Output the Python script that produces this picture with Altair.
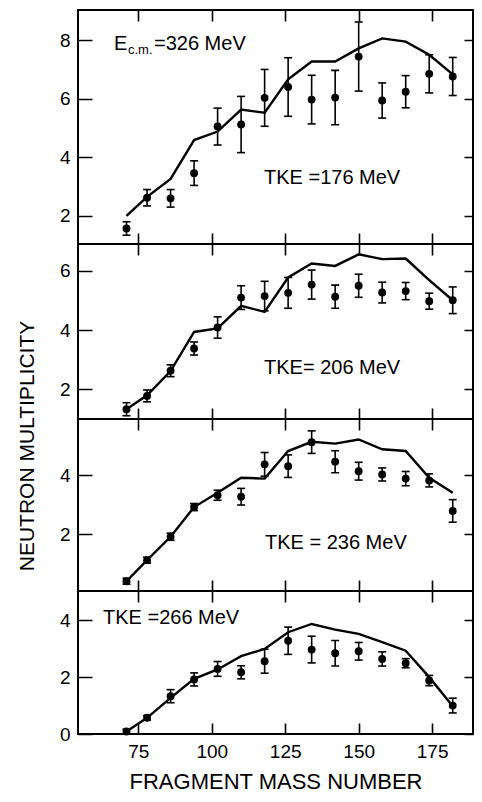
import altair as alt
import pandas as pd

# fragment mass numbers (shared by all panels)
mass = [71, 78, 86, 94, 102, 110, 118, 126, 134, 142, 150, 158, 166, 174, 182]

# TKE = 176 MeV
p1_mult = [1.57, 2.62, 2.60, 3.46, 5.05, 5.12, 6.03, 6.40, 5.97, 6.04, 7.44, 5.94, 6.24, 6.85, 6.76]
p1_err = [0.23, 0.28, 0.30, 0.42, 0.63, 0.96, 0.97, 1.00, 0.83, 0.93, 1.18, 0.60, 0.55, 0.65, 0.65]
p1_calc = [2.00, 2.65, 3.26, 4.59, 4.88, 5.63, 5.52, 6.66, 7.27, 7.27, 7.72, 8.06, 7.95, 7.50, 6.83]

# TKE = 206 MeV
p2_mult = [1.33, 1.78, 2.63, 3.38, 4.09, 5.10, 5.15, 5.26, 5.54, 5.13, 5.50, 5.27, 5.32, 4.98, 5.01]
p2_err = [0.22, 0.20, 0.20, 0.22, 0.36, 0.40, 0.50, 0.52, 0.49, 0.39, 0.39, 0.35, 0.29, 0.27, 0.45]
p2_calc = [1.33, 1.80, 2.62, 3.94, 4.06, 4.82, 4.62, 5.78, 6.25, 6.17, 6.56, 6.40, 6.42, 5.69, 5.01]

# TKE = 236 MeV
p3_mult = [0.42, 1.13, 1.92, 2.92, 3.32, 3.27, 4.36, 4.30, 5.11, 4.45, 4.13, 4.02, 3.88, 3.82, 2.79]
p3_err = [0.10, 0.10, 0.12, 0.12, 0.17, 0.28, 0.40, 0.38, 0.38, 0.37, 0.30, 0.22, 0.24, 0.22, 0.38]
p3_calc = [0.42, 1.13, 1.92, 2.92, 3.40, 3.91, 3.88, 4.81, 5.12, 5.06, 5.20, 4.87, 4.81, 3.91, 3.40]

# TKE = 266 MeV
p4_mult = [0.09, 0.57, 1.33, 1.92, 2.29, 2.17, 2.56, 3.28, 2.97, 2.84, 2.91, 2.64, 2.49, 1.88, 1.00]
p4_err = [0.08, 0.08, 0.23, 0.23, 0.26, 0.23, 0.42, 0.48, 0.47, 0.45, 0.31, 0.25, 0.16, 0.18, 0.26]
p4_calc = [0.09, 0.57, 1.27, 1.94, 2.27, 2.74, 2.99, 3.58, 3.87, 3.67, 3.52, 3.23, 2.93, 2.00, 0.98]

x_ticks = [75, 100, 125, 150, 175]
x_domain = [54.5, 188.9]
tke_labels = ["TKE =176 MeV", "TKE= 206 MeV", "TKE = 236 MeV", "TKE =266 MeV"]
ecm_parts = ["E", "c.m.", "=326 MeV"]
y_title = "NEUTRON MULTIPLICITY"
x_title = "FRAGMENT MASS NUMBER"

FONT = "Liberation Sans"
W = 395
HEIGHTS = [234, 175, 172, 143]


def text_layer(s, x, y, size=20, angle=0, align="left", baseline="alphabetic"):
    kw = dict(font=FONT, fontSize=size, color="black", align=align, baseline=baseline)
    if angle:
        kw["angle"] = angle
    return alt.Chart(pd.DataFrame({"t": [s]})).mark_text(**kw).encode(
        x=alt.value(x), y=alt.value(y), text="t:N")


def panel(mult, err, calc, ydom, yticks, h, label, lx, ly, bottom=False):
    df = pd.DataFrame({
        "mass": mass,
        "mult": mult,
        "lo": [m - e for m, e in zip(mult, err)],
        "hi": [m + e for m, e in zip(mult, err)],
        "calc": calc,
    })
    xaxis = alt.Axis(
        values=x_ticks, grid=True, gridColor="black", gridWidth=1.6,
        gridDash=[11, h - 22, 11, 3000], gridOpacity=1,
        ticks=False, tickSize=0, domain=False,
        labels=bottom, labelFontSize=19, labelPadding=8, labelColor="black",
        labelFont=FONT,
        title=x_title if bottom else None, titleFontSize=22, titleFont=FONT,
        titleFontWeight="normal", titlePadding=10, titleColor="black",
    )
    yaxis = alt.Axis(
        values=yticks, grid=True, gridColor="black", gridWidth=1.6,
        gridDash=[14, W - 23, 9, 3000], gridOpacity=1,
        ticks=False, tickSize=0, domain=False,
        labelFontSize=19, labelPadding=8, labelColor="black", labelFont=FONT,
        title=None,
    )

    xs = alt.Scale(domain=x_domain, nice=False, zero=False)
    ys = alt.Scale(domain=ydom, nice=False, zero=False)
    X = alt.X("mass:Q", scale=xs, axis=xaxis)

    base = alt.Chart(df)
    line = base.mark_line(color="black", strokeWidth=2.4).encode(
        x=X, y=alt.Y("calc:Q", scale=ys, axis=yaxis))
    bars = base.mark_rule(color="black", strokeWidth=1.6).encode(
        x=X, y=alt.Y("lo:Q", scale=ys, axis=yaxis), y2="hi:Q")
    cap_lo = base.mark_tick(color="black", orient="horizontal", size=8, thickness=1.6, opacity=1).encode(
        x=X, y=alt.Y("lo:Q", scale=ys, axis=yaxis))
    cap_hi = base.mark_tick(color="black", orient="horizontal", size=8, thickness=1.6, opacity=1).encode(
        x=X, y=alt.Y("hi:Q", scale=ys, axis=yaxis))
    pts = base.mark_circle(color="black", size=62, opacity=1).encode(
        x=X, y=alt.Y("mult:Q", scale=ys, axis=yaxis))
    txt = text_layer(label, lx, ly)
    return [line, bars, cap_lo, cap_hi, pts, txt]


l1 = panel(p1_mult, p1_err, p1_calc, [1.04, 9.03], [2, 4, 6, 8], HEIGHTS[0], tke_labels[0], 186, 174)
l1 += [text_layer(ecm_parts[0], 36, 40),
       text_layer(ecm_parts[1], 50, 44, size=13),
       text_layer(ecm_parts[2], 76, 40)]
p1 = alt.layer(*l1).properties(width=W, height=HEIGHTS[0])
p2 = alt.layer(*panel(p2_mult, p2_err, p2_calc, [1.0, 6.91], [2, 4, 6], HEIGHTS[1],
                      tke_labels[1], 186, 130)).properties(width=W, height=HEIGHTS[1])
p3 = alt.layer(*panel(p3_mult, p3_err, p3_calc, [0.09, 5.89], [2, 4], HEIGHTS[2],
                      tke_labels[2], 187, 130)).properties(width=W, height=HEIGHTS[2])
p4 = alt.layer(*panel(p4_mult, p4_err, p4_calc, [0.0, 5.03], [0, 2, 4], HEIGHTS[3],
                      tke_labels[3], 25, 33, bottom=True)).properties(width=W, height=HEIGHTS[3])

panels = alt.vconcat(p1, p2, p3, p4, spacing=0, bounds="flush")

ylab = text_layer(y_title, 19, 436, size=21, angle=270, align="center", baseline="middle").properties(
    width=40, height=sum(HEIGHTS), view=alt.ViewBackground(stroke="transparent"))

chart = alt.hconcat(ylab, panels, spacing=29, bounds="flush").properties(
    padding={"left": 0, "top": 1, "right": 0, "bottom": 0}
).configure(font=FONT, background="white").configure_view(stroke="black", strokeWidth=2)

chart.save("out.html", embed_options={"renderer": "svg", "actions": False})
